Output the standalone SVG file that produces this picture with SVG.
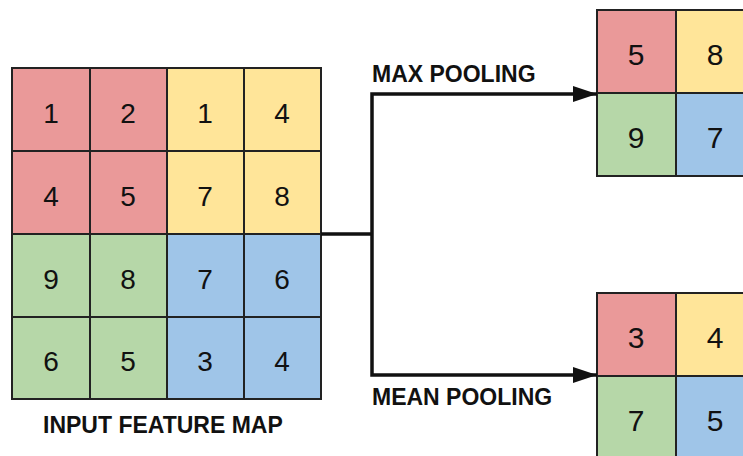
<svg xmlns="http://www.w3.org/2000/svg" width="743" height="456" viewBox="0 0 743 456">
<defs>
<style>
.c{stroke:#222;stroke-width:2}
.r{fill:#ea9999}.y{fill:#ffe599}.g{fill:#b6d7a8}.b{fill:#9fc5e8}
.n{font-family:"Liberation Sans",Arial,sans-serif;font-size:28px;fill:#111;text-anchor:middle}
.m{font-family:"Liberation Sans",Arial,sans-serif;font-size:30px;fill:#111;text-anchor:middle}
.l{font-family:"Liberation Sans",Arial,sans-serif;font-size:23px;font-weight:bold;fill:#111}
.w{fill:none;stroke:#111;stroke-width:3.5}
</style>
<marker id="ah" viewBox="0 0 24 16" refX="24" refY="8" markerWidth="24" markerHeight="16" markerUnits="userSpaceOnUse" orient="auto">
<path d="M0,0 L24,8 L0,16 Z" fill="#111"/>
</marker>
</defs>
<rect width="743" height="456" fill="#fff"/>
<g id="input-map">
<rect class="c r" x="12" y="68" width="78" height="83"/>
<rect class="c r" x="90" y="68" width="77" height="83"/>
<rect class="c y" x="167" y="68" width="77" height="83"/>
<rect class="c y" x="244" y="68" width="77" height="83"/>
<rect class="c r" x="12" y="151" width="78" height="83"/>
<rect class="c r" x="90" y="151" width="77" height="83"/>
<rect class="c y" x="167" y="151" width="77" height="83"/>
<rect class="c y" x="244" y="151" width="77" height="83"/>
<rect class="c g" x="12" y="234" width="78" height="83"/>
<rect class="c g" x="90" y="234" width="77" height="83"/>
<rect class="c b" x="167" y="234" width="77" height="83"/>
<rect class="c b" x="244" y="234" width="77" height="83"/>
<rect class="c g" x="12" y="317" width="78" height="82"/>
<rect class="c g" x="90" y="317" width="77" height="82"/>
<rect class="c b" x="167" y="317" width="77" height="82"/>
<rect class="c b" x="244" y="317" width="77" height="82"/>
<text class="n" x="51" y="123">1</text><text class="n" x="128" y="123">2</text><text class="n" x="205" y="123">1</text><text class="n" x="282" y="123">4</text>
<text class="n" x="51" y="206">4</text><text class="n" x="128" y="206">5</text><text class="n" x="205" y="206">7</text><text class="n" x="282" y="206">8</text>
<text class="n" x="51" y="289">9</text><text class="n" x="128" y="289">8</text><text class="n" x="205" y="289">7</text><text class="n" x="282" y="289">6</text>
<text class="n" x="51" y="371">6</text><text class="n" x="128" y="371">5</text><text class="n" x="205" y="371">3</text><text class="n" x="282" y="371">4</text>
<text class="l" x="43" y="433">INPUT FEATURE MAP</text>
</g>
<g id="max-output">
<rect class="c r" x="597" y="10" width="79" height="83"/>
<rect class="c y" x="676" y="10" width="79" height="83"/>
<rect class="c g" x="597" y="93" width="79" height="83"/>
<rect class="c b" x="676" y="93" width="79" height="83"/>
<text class="m" x="636" y="65">5</text><text class="m" x="715" y="65">8</text>
<text class="m" x="636" y="148">9</text><text class="m" x="715" y="148">7</text>
</g>
<g id="mean-output">
<rect class="c r" x="597" y="293" width="79" height="83"/>
<rect class="c y" x="676" y="293" width="79" height="83"/>
<rect class="c g" x="597" y="376" width="79" height="83"/>
<rect class="c b" x="676" y="376" width="79" height="83"/>
<text class="m" x="636" y="348">3</text><text class="m" x="715" y="348">4</text>
<text class="m" x="636" y="431">7</text><text class="m" x="715" y="431">5</text>
</g>
<g id="connectors">
<path class="w" d="M321,234 H372"/>
<path class="w" d="M372,234 V94 H597" marker-end="url(#ah)"/>
<path class="w" d="M372,234 V375 H597" marker-end="url(#ah)"/>
<text class="l" x="372" y="82">MAX POOLING</text>
<text class="l" x="372" y="405">MEAN POOLING</text>
</g>
</svg>
